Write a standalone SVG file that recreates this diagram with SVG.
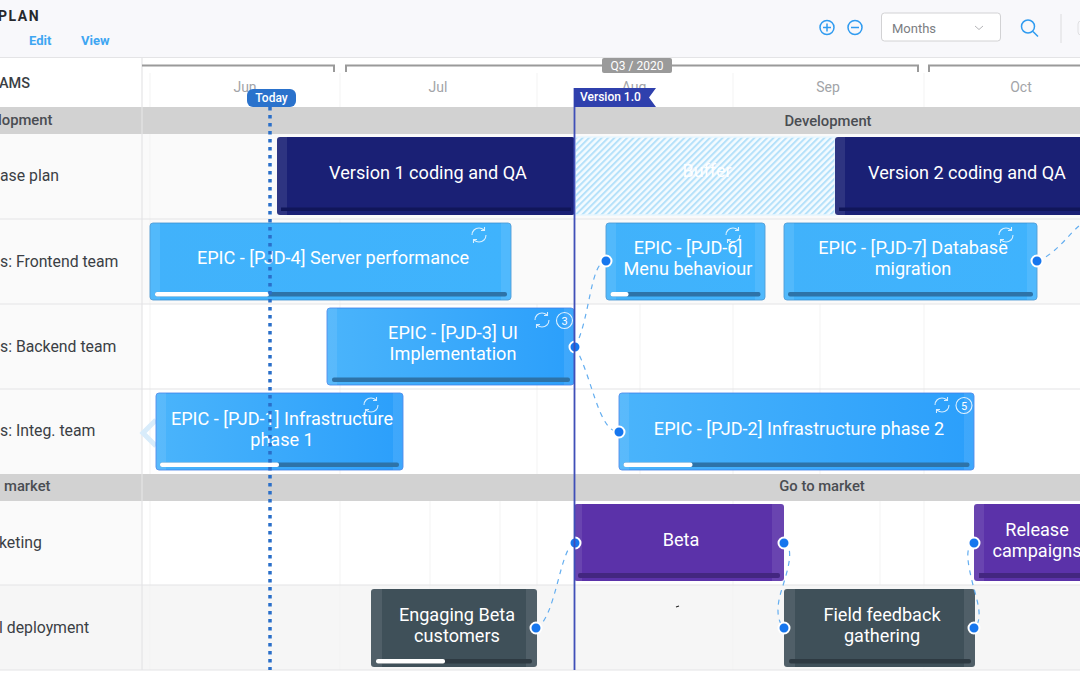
<svg xmlns="http://www.w3.org/2000/svg" width="1080" height="675" viewBox="0 0 1080 675">
<style>
text{font-family:Roboto,"Liberation Sans",sans-serif}
.lbl{font-size:15.8px;fill:#3b3f45}
.grp{font-size:14.8px;font-weight:500;fill:#4a4d52}
.mon{font-size:14px;fill:#a2a4a8;text-anchor:middle}
.bt{font-size:18.1px;fill:#fff;text-anchor:middle}
.grid{stroke:#f3f3f3;stroke-width:1}
.sep{stroke:#e4e4e6;stroke-width:1.2}
.br{fill:none;stroke:#9a9a9a;stroke-width:2}
.dep{fill:none;stroke:#64aef0;stroke-width:1.2;stroke-dasharray:5 5}
.dot{fill:#1676ee;stroke:#fff;stroke-width:2}
.edge{fill:#fff;fill-opacity:.09}
.ic{fill:none;stroke:#fff;stroke-opacity:.8;stroke-width:1.1}
.bd{fill:none;stroke:#fff;stroke-opacity:.85;stroke-width:1.1}
</style>
<defs>
<linearGradient id="blue" x1="0" x2="1" y1="0" y2="0"><stop offset="0" stop-color="#41b2fb"/><stop offset="1" stop-color="#3fb3fd"/></linearGradient>
<linearGradient id="blue2" x1="0" x2="1" y1="0" y2="0"><stop offset="0" stop-color="#4ab4fb"/><stop offset="1" stop-color="#2b9ffb"/></linearGradient>
<pattern id="hatch" width="4.500" height="4.500" patternUnits="userSpaceOnUse" patternTransform="rotate(45)"><rect width="4.500" height="4.500" fill="#f4fbff"/><rect width="2" height="4.500" fill="#b5e1fa"/></pattern>
<symbol id="sync" viewBox="0 0 18 18" overflow="visible"><path class="ic" d="M2 9C2 5 5 2 9 2c2 0 3.500.6 5 2M16 9c0 4-3 7-7 7-2 0-3.500-.6-5-2M14.500 1v3.500H11M3.500 17v-3.500H7"/></symbol>
</defs>

<rect width="1080" height="675" fill="#fff"/>
<rect width="1080" height="57" fill="#f8f8fb"/>
<line x1="0" y1="57.500" x2="1080" y2="57.500" stroke="#e4e4e6"/>

<g id="toolbar">
<text x="-2" y="21" font-size="14" font-weight="700" letter-spacing="1.500" fill="#26282c">PLAN</text>
<text x="29" y="45" font-size="13" font-weight="700" fill="#3ea6f2">Edit</text>
<text x="81" y="45" font-size="13" font-weight="700" fill="#3ea6f2">View</text>
<circle cx="827" cy="27.500" r="7" fill="none" stroke="#2f9bf0" stroke-width="1.500"/>
<path d="M823 27.500h8M827 23.500v8" stroke="#2f9bf0" stroke-width="1.500"/>
<circle cx="855" cy="27.500" r="7" fill="none" stroke="#2f9bf0" stroke-width="1.500"/>
<path d="M851 27.500h8" stroke="#2f9bf0" stroke-width="1.500"/>
<rect x="881.500" y="13" width="119" height="28" rx="3" fill="#fff" stroke="#d2d2d4"/>
<text x="892" y="33" font-size="13" fill="#7b7d82">Months</text>
<path d="M975 26l4 3.500 4-3.500" fill="none" stroke="#b5b5b8" stroke-width="1"/>
<circle cx="1028" cy="26.500" r="6.500" fill="none" stroke="#2f9bf0" stroke-width="1.500"/>
<path d="M1033 31.500l5 5" stroke="#2f9bf0" stroke-width="1.500"/>
<line x1="1061" y1="14" x2="1061" y2="43" stroke="#dcdcde"/>
<rect x="1078" y="21" width="10" height="14" rx="3" fill="none" stroke="#e0e0e2"/>
</g>

<g id="grid">
<rect x="0" y="134" width="1080" height="85" fill="#fafafa"/>
<rect x="0" y="219" width="1080" height="85" fill="#fafafa"/>
<rect x="0" y="585" width="1080" height="85" fill="#f6f6f6"/>
<rect x="0" y="501" width="142" height="84" fill="#fafafa"/>
<rect x="0" y="304" width="142" height="170" fill="#fafafa"/>
<path class="grid" d="M150 73V107M340 73V107M537 73V107M733 73V107M924 73V107M150 134V670M340 219V670M537 304V670M733 304V670M924 304V670M640 304V474M820 304V474M430 501V670M500 501V670M880 501V585"/>
<path class="sep" d="M0 219H1080M0 304H1080M0 389H1080M0 585H1080M0 670H1080M142 58V670"/>
</g>

<g id="timeline">
<path class="br" d="M142 65.500H334V72"/>
<path class="br" d="M346 72V65.500H918V72"/>
<path class="br" d="M929 72V65.500H1080"/>
<text class="mon" x="245" y="92">Jun</text>
<text class="mon" x="438" y="92">Jul</text>
<text class="mon" x="634" y="92">Aug</text>
<text class="mon" x="828" y="92">Sep</text>
<text class="mon" x="1021" y="92">Oct</text>
<rect x="602" y="58" width="70" height="15" rx="2" fill="#9a9a9a"/>
<text x="637" y="69.500" font-size="12" fill="#fff" text-anchor="middle">Q3 / 2020</text>
</g>

<g id="bands">
<rect x="0" y="107" width="1080" height="27" fill="#d2d2d2"/>
<rect x="0" y="474" width="1080" height="27" fill="#d2d2d2"/>
<line x1="142" y1="107" x2="142" y2="134" stroke="#e8e8e8"/>
<line x1="142" y1="474" x2="142" y2="501" stroke="#e8e8e8"/>
<text class="grp" x="828" y="126" text-anchor="middle">Development</text>
<text class="grp" x="822" y="491" text-anchor="middle">Go to market</text>
</g>

<g id="labels">
<text x="-1" y="88" font-size="14.500" font-weight="500" fill="#3b3f45">AMS</text>
<text class="grp" x="-2" y="125">lopment</text>
<text class="lbl" x="0" y="181">ase plan</text>
<text class="lbl" x="0" y="267">s: Frontend team</text>
<text class="lbl" x="0" y="352">s: Backend team</text>
<text class="lbl" x="0" y="436">s: Integ. team</text>
<text class="grp" x="4" y="491">market</text>
<text class="lbl" x="-1" y="548">keting</text>
<text class="lbl" x="-1" y="633">l deployment</text>
</g>

<path d="M156 420l-13 13 13 13" fill="none" stroke="#d8ecfb" stroke-width="5"/>

<g id="release1"><rect x="277" y="137" width="298" height="78" rx="3" fill="#1a2075"/><rect class="edge" x="277" y="137" width="10" height="78"/><rect x="281" y="207.500" width="290" height="3.500" fill="#11165a"/><text class="bt" x="428" y="179">Version 1 coding and QA</text></g>
<g id="buffer"><rect x="575" y="137" width="260" height="78" fill="url(#hatch)" stroke="#e8f6fe" stroke-width="1.500"/><text x="707" y="177" font-size="18" fill="#fff" text-anchor="middle">Buffer</text></g>
<g id="release2"><rect x="835" y="137" width="250" height="78" rx="3" fill="#1a2075"/><rect class="edge" x="835" y="137" width="10" height="78"/><rect x="839" y="207.500" width="241" height="3.500" fill="#11165a"/><text class="bt" x="967" y="179">Version 2 coding and QA</text></g>

<g id="pjd4"><rect x="150" y="223" width="361" height="77" rx="3" fill="url(#blue)" stroke="#3d8fcf" stroke-width=".8"/><rect class="edge" x="150" y="223" width="10" height="77"/><rect class="edge" x="501" y="223" width="10" height="77"/><rect x="155" y="292" width="352" height="4.500" rx="2" fill="#2d73a8"/><rect x="155" y="292" width="114" height="4.500" rx="2" fill="#fff"/><text class="bt" x="333" y="264">EPIC - [PJD-4] Server performance</text><use href="#sync" x="470" y="226" width="18" height="18"/></g>
<g id="pjd3"><rect x="327" y="308" width="247" height="77" rx="3" fill="url(#blue2)" stroke="#3f7fe8" stroke-width=".8"/><rect class="edge" x="327" y="308" width="10" height="77"/><rect class="edge" x="564" y="308" width="10" height="77"/><rect x="332" y="377.500" width="238" height="4.500" rx="2" fill="#2d73a8"/><text class="bt" x="453" y="339">EPIC - [PJD-3] UI</text><text class="bt" x="453" y="360">Implementation</text><use href="#sync" x="533" y="311" width="18" height="18"/><circle class="bd" cx="564.500" cy="320.500" r="8"/><text x="564.500" y="324.500" font-size="11" fill="#fff" text-anchor="middle">3</text></g>
<g id="pjd1"><rect x="156" y="393" width="247" height="77" rx="3" fill="url(#blue2)" stroke="#3f7fe8" stroke-width=".8"/><rect class="edge" x="156" y="393" width="10" height="77"/><rect class="edge" x="393" y="393" width="10" height="77"/><rect x="160" y="462.500" width="239" height="4.500" rx="2" fill="#2d73a8"/><rect x="160" y="462.500" width="119" height="4.500" rx="2" fill="#fff"/><text class="bt" x="282" y="425">EPIC - [PJD-1] Infrastructure</text><text class="bt" x="282" y="446">phase 1</text><use href="#sync" x="362" y="396" width="18" height="18"/></g>
<g id="pjd6"><rect x="606" y="223" width="159" height="77" rx="3" fill="url(#blue)" stroke="#3d8fcf" stroke-width=".8"/><rect class="edge" x="606" y="223" width="10" height="77"/><rect class="edge" x="755" y="223" width="10" height="77"/><rect x="610.500" y="292" width="150" height="4.500" rx="2" fill="#2d73a8"/><rect x="610.500" y="292" width="18" height="4.500" rx="2" fill="#fff"/><text class="bt" x="688" y="254">EPIC - [PJD-6]</text><text class="bt" x="688" y="275">Menu behaviour</text><use href="#sync" x="724" y="226" width="18" height="18"/></g>
<g id="pjd7"><rect x="784" y="223" width="253" height="77" rx="3" fill="url(#blue)" stroke="#3d8fcf" stroke-width=".8"/><rect class="edge" x="784" y="223" width="10" height="77"/><rect class="edge" x="1027" y="223" width="10" height="77"/><rect x="788" y="292" width="245" height="4.500" rx="2" fill="#2d73a8"/><text class="bt" x="913" y="254">EPIC - [PJD-7] Database</text><text class="bt" x="913" y="275">migration</text><use href="#sync" x="997" y="226" width="18" height="18"/></g>
<g id="pjd2"><rect x="619" y="393" width="355" height="77" rx="3" fill="url(#blue2)" stroke="#3f7fe8" stroke-width=".8"/><rect class="edge" x="619" y="393" width="10" height="77"/><rect class="edge" x="964" y="393" width="10" height="77"/><rect x="623.500" y="462.500" width="346" height="4.500" rx="2" fill="#2d73a8"/><rect x="623.500" y="462.500" width="69" height="4.500" rx="2" fill="#fff"/><text class="bt" x="799" y="435">EPIC - [PJD-2] Infrastructure phase 2</text><use href="#sync" x="933" y="396" width="18" height="18"/><circle class="bd" cx="964" cy="405.500" r="8"/><text x="964" y="409.500" font-size="11" fill="#fff" text-anchor="middle">5</text></g>

<g id="beta"><rect x="574" y="504" width="210" height="77" rx="3" fill="#5b32a9"/><rect class="edge" x="574" y="504" width="8" height="77"/><rect class="edge" x="772" y="504" width="12" height="77"/><rect x="578" y="573" width="202" height="5" rx="2" fill="#432680"/><text class="bt" x="681" y="546">Beta</text></g>
<g id="release"><rect x="974" y="504" width="115" height="77" rx="3" fill="#5b32a9"/><rect class="edge" x="974" y="504" width="10" height="77"/><rect x="979" y="573" width="101" height="5" fill="#432680"/><text class="bt" x="1037" y="536">Release</text><text class="bt" x="1037" y="557">campaigns</text></g>
<g id="engaging"><rect x="371" y="589" width="166" height="78" rx="3" fill="#3f5059"/><rect class="edge" x="371" y="589" width="11" height="78"/><rect class="edge" x="526" y="589" width="11" height="78"/><rect x="376" y="659" width="156" height="4.500" rx="2" fill="#2e3a42"/><rect x="376" y="659" width="69" height="4.500" rx="2" fill="#fff"/><text class="bt" x="457" y="621">Engaging Beta</text><text class="bt" x="457" y="642">customers</text></g>
<g id="field"><rect x="784" y="589" width="191" height="78" rx="3" fill="#3f5059"/><rect class="edge" x="784" y="589" width="11" height="78"/><rect class="edge" x="964" y="589" width="11" height="78"/><rect x="789" y="659" width="182" height="4.500" rx="2" fill="#2e3a42"/><text class="bt" x="882" y="621">Field feedback</text><text class="bt" x="882" y="642">gathering</text></g>

<g id="connectors">
<path class="dep" d="M575 347C590 320 590 262 606 261"/>
<path class="dep" d="M575 347C592 375 598 432 619 432"/>
<path class="dep" d="M1037 261C1055 255 1068 235 1080 225"/>
<path class="dep" d="M536 628C556 620 560 545 575 543"/>
<path class="dep" d="M784 543C796 548 786 575 781 592C777 605 776 620 784 628"/>
<path class="dep" d="M974 543C964 546 968 565 973 585C977 600 984 620 974 628"/>
</g>

<g id="ports">
<circle class="dot" cx="575" cy="347" r="5.500"/><circle class="dot" cx="606" cy="261" r="5.500"/><circle class="dot" cx="1037" cy="261" r="5.500"/><circle class="dot" cx="619" cy="432" r="5.500"/><circle class="dot" cx="575" cy="543" r="5.500"/><circle class="dot" cx="784" cy="543" r="5.500"/><circle class="dot" cx="974" cy="543" r="5.500"/><circle class="dot" cx="536" cy="628" r="5.500"/><circle class="dot" cx="784" cy="628" r="5.500"/><circle class="dot" cx="974" cy="628" r="5.500"/>
</g>

<g id="today">
<line x1="270" y1="107" x2="270" y2="670" stroke="#2a6fc9" stroke-width="3.500" stroke-dasharray="3.500 4.500"/>
<rect x="247" y="89" width="49" height="18" rx="6" fill="#2a72cc"/>
<text x="271.500" y="102" font-size="12" font-weight="500" fill="#fff" text-anchor="middle">Today</text>
</g>
<g id="version">
<line x1="574.500" y1="88" x2="574.500" y2="670" stroke="#3f4fb8" stroke-width="1.800"/>
<path d="M574 88H656L649 97.500 656 107H574Z" fill="#2f40ad"/>
<text x="580" y="101" font-size="12" font-weight="500" fill="#fff">Version 1.0</text>
</g>
<path d="M676 607l3-1" stroke="#222" stroke-width="1.200"/>
</svg>
